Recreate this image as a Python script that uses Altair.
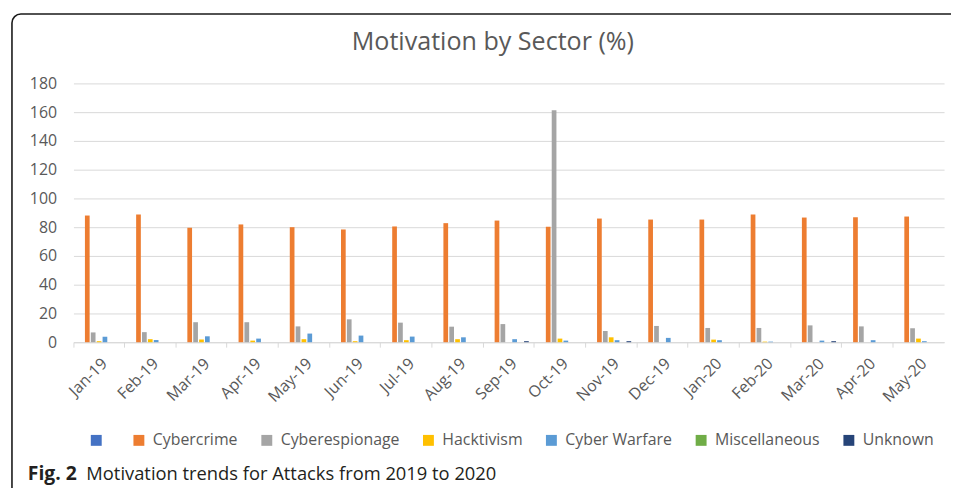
import altair as alt
import pandas as pd

months = ["Jan-19", "Feb-19", "Mar-19", "Apr-19", "May-19", "Jun-19", "Jul-19",
          "Aug-19", "Sep-19", "Oct-19", "Nov-19", "Dec-19", "Jan-20", "Feb-20",
          "Mar-20", "Apr-20", "May-20"]

series = ["", "Cybercrime", "Cyberespionage", "Hacktivism", "Cyber Warfare",
          "Miscellaneous", "Unknown"]
colors = ["#4472C4", "#ED7D31", "#A5A5A5", "#FFC000", "#5B9BD5", "#70AD47", "#264478"]

blank = [0] * 17
cybercrime = [88.1, 88.8, 79.6, 81.9, 80.0, 78.4, 80.5, 82.8, 84.6, 80.3, 86.0,
              85.3, 85.3, 88.8, 86.7, 86.9, 87.4]
cyberespionage = [6.8, 7.0, 13.9, 13.9, 11.0, 15.9, 13.6, 10.8, 12.6, 161.3, 7.8,
                  11.3, 9.9, 9.9, 11.7, 11.0, 9.7]
hacktivism = [0.7, 2.1, 1.9, 1.1, 2.1, 0.7, 1.4, 2.1, 0.0, 2.5, 3.4,
              0.0, 1.8, 0.4, 0.0, 0.0, 2.5]
cyber_warfare = [3.8, 1.5, 4.1, 2.5, 6.0, 4.6, 3.9, 3.4, 2.1, 1.1, 1.4,
                 3.0, 1.4, 0.4, 1.1, 1.4, 0.7]
miscellaneous = [0] * 17
unknown = [0, 0, 0, 0, 0, 0, 0, 0, 0.7, 0, 0.7, 0, 0, 0, 0.7, 0, 0]

title_text = ["Motivation by Sector (%)"]
caption_bold = ["Fig. 2"]
caption_rest = ["Motivation trends for Attacks from 2019 to 2020"]

y_ticks = [0, 20, 40, 60, 80, 100, 120, 140, 160, 180]

values = [blank, cybercrime, cyberespionage, hacktivism, cyber_warfare, miscellaneous, unknown]
rows = []
for s, vals in zip(series, values):
    for m, v in zip(months, vals):
        rows.append({"month": m, "series": s, "value": v})
df = pd.DataFrame(rows)

FONT = "Open Sans"

bars = alt.Chart(df).mark_bar().encode(
    x=alt.X("month:N", sort=months,
            scale=alt.Scale(paddingInner=0, paddingOuter=0),
            axis=alt.Axis(title=None, labelAngle=-45, labelFontSize=16, labelColor="#595959",
                          labelFont=FONT, domainColor="#D9D9D9", tickColor="#D9D9D9",
                          tickSize=5, bandPosition=0, labelPadding=8,
                          grid=False)),
    xOffset=alt.XOffset("series:N", sort=series,
                        scale=alt.Scale(paddingInner=0.2, paddingOuter=0.95)),
    y=alt.Y("value:Q", scale=alt.Scale(domain=[0, 180], nice=False),
            axis=alt.Axis(title=None, values=y_ticks, grid=True, gridColor="#D9D9D9",
                          domain=False, ticks=False, labelPadding=17, labelFontSize=16,
                          labelColor="#595959", labelFont=FONT)),
    color=alt.Color("series:N", sort=series,
                    scale=alt.Scale(domain=series, range=colors),
                    legend=alt.Legend(title=None, orient="none", direction="horizontal",
                                      legendX=15, legendY=352, symbolType="square",
                                      symbolSize=121, symbolStrokeWidth=0,
                                      labelFontSize=16, labelFont=FONT,
                                      labelColor="#595959", columnPadding=21,
                                      labelOffset=6, padding=0, columns=7)),
)

frame = alt.Chart(pd.DataFrame({"k": [1]})).mark_rect(
    fillOpacity=0, stroke="#1a1a1a", strokeWidth=1.6, cornerRadius=9
).encode(x=alt.value(-62), x2=alt.value(3000), y=alt.value(-70), y2=alt.value(3000))

title = alt.Chart(pd.DataFrame({"t": title_text})).mark_text(
    font=FONT, fontSize=25.3, color="#595959", align="center", baseline="alphabetic"
).encode(text="t:N", x=alt.value(423), y=alt.value(-34))

cap1 = alt.Chart(pd.DataFrame({"t": caption_bold})).mark_text(
    font=FONT, fontSize=19.5, fontWeight="bold", color="#231F20", align="left",
    baseline="alphabetic"
).encode(text="t:N", x=alt.value(-46), y=alt.value(400))

cap2 = alt.Chart(pd.DataFrame({"t": caption_rest})).mark_text(
    font=FONT, fontSize=18.5, color="#231F20", align="left", baseline="alphabetic"
).encode(text="t:N", x=alt.value(13), y=alt.value(400))

chart = alt.layer(frame, bars, title, cap1, cap2).properties(
    width=878, height=261,
    autosize=alt.AutoSizeParams(type="none"),
    padding={"left": 66, "top": 74, "right": 7, "bottom": 145},
).configure_view(stroke=None)

chart.save("out.html", embed_options={"renderer": "svg", "actions": False})
